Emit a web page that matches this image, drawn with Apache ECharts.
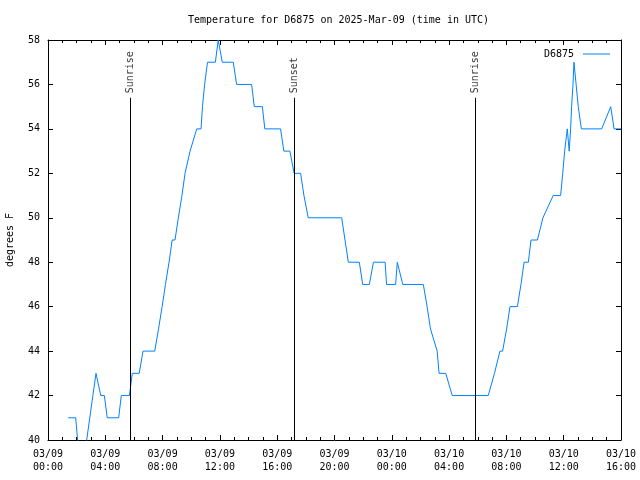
<!DOCTYPE html>
<html><head><meta charset="utf-8">
<script src="https://cdn.jsdelivr.net/npm/echarts@6/dist/echarts.min.js"></script>
<style>html,body{margin:0;padding:0;background:#fff}#c{width:640px;height:480px}</style>
</head><body><div id="c"></div>
<script>
// Observation times (UTC) and temperatures (°F)
const times = ["03/09 01:25","03/09 01:56","03/09 02:04","03/09 02:12","03/09 02:30","03/09 02:42","03/09 02:55","03/09 03:08","03/09 03:21","03/09 03:41","03/09 03:56","03/09 04:08","03/09 04:56","03/09 05:07","03/09 05:41","03/09 05:53","03/09 06:22","03/09 06:38","03/09 07:27","03/09 07:43","03/09 07:58","03/09 08:12","03/09 08:27","03/09 08:40","03/09 08:52","03/09 09:06","03/09 09:21","03/09 09:34","03/09 09:55","03/09 10:23","03/09 10:41","03/09 10:47","03/09 10:56","03/09 11:08","03/09 11:41","03/09 11:53","03/09 12:10","03/09 12:56","03/09 13:10","03/09 14:13","03/09 14:24","03/09 14:58","03/09 15:08","03/09 16:14","03/09 16:28","03/09 16:53","03/09 17:11","03/09 17:38","03/09 17:52","03/09 18:10","03/09 20:30","03/09 20:44","03/09 20:58","03/09 21:44","03/09 21:58","03/09 22:26","03/09 22:43","03/09 23:32","03/09 23:38","03/10 00:16","03/10 00:23","03/10 00:46","03/10 02:12","03/10 02:28","03/10 02:42","03/10 03:10","03/10 03:18","03/10 03:46","03/10 04:13","03/10 06:44","03/10 07:10","03/10 07:33","03/10 07:44","03/10 08:01","03/10 08:15","03/10 08:46","03/10 09:01","03/10 09:14","03/10 09:32","03/10 09:43","03/10 10:10","03/10 10:33","03/10 11:16","03/10 11:47","03/10 11:56","03/10 12:04","03/10 12:15","03/10 12:23","03/10 12:29","03/10 12:33","03/10 12:39","03/10 12:43","03/10 12:52","03/10 13:01","03/10 13:14","03/10 14:39","03/10 15:17","03/10 15:31","03/10 16:00"];
const temps = [41,41,40,39,39,40,41,42,43,42,42,41,41,42,42,43,43,44,44,45,46,47,48,49,49,50,51,52,53,54,54,55,56,57,57,58,57,57,56,56,55,55,54,54,53,53,52,52,51,50,50,49,48,48,47,47,48,48,47,47,48,47,47,46,45,44,43,43,42,42,43,44,44,45,46,46,47,48,48,49,49,50,51,51,52,53,54,53,54,55,56,57,56,55,54,54,55,54,54];
const sunTimes = ["03/09 05:45","03/09 17:11","03/10 05:50"];
const sunLabels = ["Sunrise","Sunset","Sunrise"];
const yTicks = [40,42,44,46,48,50,52,54,56,58];
const xTickLabels = ["03/09\n00:00","03/09\n04:00","03/09\n08:00","03/09\n12:00","03/09\n16:00","03/09\n20:00","03/10\n00:00","03/10\n04:00","03/10\n08:00","03/10\n12:00","03/10\n16:00"];

function toHours(s){
  const day = parseInt(s.slice(3,5),10) - 9;
  const hh = parseInt(s.slice(6,8),10), mm = parseInt(s.slice(9,11),10);
  return day*24 + hh + mm/60;
}
const lineData = times.map((t,i)=>[toHours(t), temps[i]]);
const FONT = "DejaVu Sans Mono";
const LINE_TOP = 55.4, LABEL_BASE = 55.6;
const sunLineData = sunTimes.map(t=>[{coord:[toHours(t),40]},{coord:[toHours(t),LINE_TOP]}]);
const sunLabelData = sunTimes.map((t,i)=>({value:[toHours(t),LABEL_BASE], name:sunLabels[i]}));

const chart = echarts.init(document.getElementById('c'), null, {renderer:'canvas'});
const xCommon = {
  type:'value', min:0, max:40, interval:4,
  axisLine:{show:true, onZero:false, lineStyle:{color:'#000', width:1}},
  axisTick:{show:true, inside:true, length:5, lineStyle:{color:'#000'}},
  minorTick:{show:true, splitNumber:4, length:3, lineStyle:{color:'#000'}},
  splitLine:{show:false}
};
const yCommon = {
  type:'value', min:40, max:58, interval:2,
  axisLine:{show:true, onZero:false, lineStyle:{color:'#000', width:1}},
  axisTick:{show:true, inside:true, length:5, lineStyle:{color:'#000'}},
  splitLine:{show:false}
};
chart.setOption({
  animation:false,
  backgroundColor:'#fff',
  title:{text:'Temperature for D6875 on 2025-Mar-09 (time in UTC)', left:183, top:10,
    textStyle:{fontFamily:FONT, fontSize:10, fontWeight:'normal', color:'#000'}},
  legend:{data:[{name:'D6875', icon:'rect'}], right:25, top:44, align:'right', itemWidth:27, itemHeight:1, itemGap:6,
    itemStyle:{color:'#0080ff'},
    textStyle:{fontFamily:FONT, fontSize:10, color:'#000', padding:[0,4,0,0]}},
  grid:{left:48, right:19, top:40, bottom:40, containLabel:false, outerBoundsMode:'none'},
  xAxis:[
    Object.assign({}, xCommon, {position:'bottom',
      axisLabel:{show:true, margin:8, fontFamily:FONT, fontSize:10, color:'#000', lineHeight:13,
        formatter:(v)=>xTickLabels[Math.round(v/4)]}}),
    Object.assign({}, xCommon, {position:'top', axisLabel:{show:false}})
  ],
  yAxis:[
    Object.assign({}, yCommon, {position:'left', name:'degrees F', nameLocation:'middle', nameGap:33,
      nameTextStyle:{fontFamily:FONT, fontSize:10, color:'#000'},
      axisLabel:{show:true, margin:8, fontFamily:FONT, fontSize:10, color:'#000',
        formatter:(v)=> yTicks.indexOf(v)>=0 ? String(v) : ''}}),
    Object.assign({}, yCommon, {position:'right', axisLabel:{show:false}})
  ],
  series:[
    {name:'D6875', type:'line', data:lineData, symbol:'none', showSymbol:false,
      lineStyle:{color:'#0080ff', width:1}, itemStyle:{color:'#0080ff'}, clip:true,
      markLine:{silent:true, symbol:['none','none'], label:{show:false},
        lineStyle:{color:'#000', width:1, type:'solid'}, data:sunLineData}},
    {name:'sun', type:'scatter', data:sunLabelData, symbolSize:0, silent:true,
      label:{show:true, formatter:(p)=>p.name, position:[0,0], align:'left', verticalAlign:'middle', rotate:90,
        fontFamily:FONT, fontSize:10, color:'#000'}}
  ]
});
</script></body></html>
